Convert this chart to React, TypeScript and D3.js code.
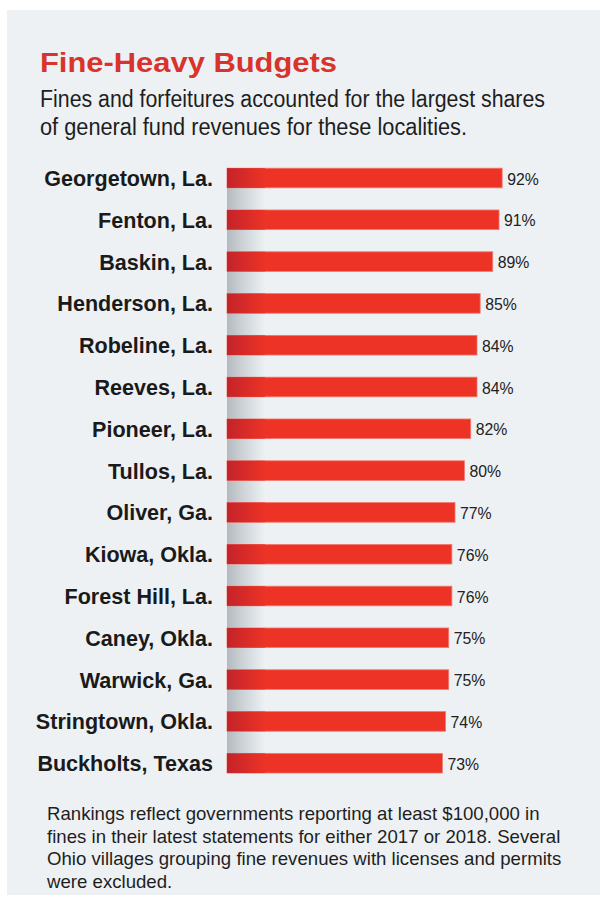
import React from "react";
import * as d3 from "d3";

const localities = [
  "Georgetown, La.",
  "Fenton, La.",
  "Baskin, La.",
  "Henderson, La.",
  "Robeline, La.",
  "Reeves, La.",
  "Pioneer, La.",
  "Tullos, La.",
  "Oliver, Ga.",
  "Kiowa, Okla.",
  "Forest Hill, La.",
  "Caney, Okla.",
  "Warwick, Ga.",
  "Stringtown, Okla.",
  "Buckholts, Texas",
];
const shares = [92, 91, 89, 85, 84, 84, 82, 80, 77, 76, 76, 75, 75, 74, 73];

const title = "Fine-Heavy Budgets";
const subtitleLines = [
  "Fines and forfeitures accounted for the largest shares",
  "of general fund revenues for these localities.",
];
const noteLines = [
  "Rankings reflect governments reporting at least $100,000 in",
  "fines in their latest statements for either 2017 or 2018. Several",
  "Ohio villages grouping fine revenues with licenses and permits",
  "were excluded.",
];

const W = 600;
const H = 903;
const sans = "'Liberation Sans', Arial, Helvetica, sans-serif";

export default function App() {
  const x = d3.scaleLinear().domain([0, 100]).range([213, 527.3]);
  const y = d3
    .scaleBand<string>()
    .domain(localities)
    .range([157.1, 784.1])
    .paddingInner(0.53)
    .paddingOuter(0.265);
  const barStart = 227;
  const shadeW = 38;
  const bw = y.bandwidth();
  const firstTop = y(localities[0])!;
  const lastBottom = y(localities[localities.length - 1])! + bw;

  return (
    <svg
      width={W}
      height={H}
      style={{ position: "absolute", left: 0, top: 0 }}
      xmlns="http://www.w3.org/2000/svg"
    >
      <defs>
        <linearGradient id="shade" x1="0" x2="1" y1="0" y2="0">
          <stop offset="0" stopColor="#b3babf" />
          <stop offset="0.35" stopColor="#c9cfd3" />
          <stop offset="1" stopColor="#edf1f4" />
        </linearGradient>
        <linearGradient id="barShade" x1="0" x2="1" y1="0" y2="0">
          <stop offset="0" stopColor="#c4232a" />
          <stop offset="1" stopColor="#ec3326" />
        </linearGradient>
      </defs>
      <rect x={0} y={0} width={W} height={H} fill="#ffffff" />
      <rect x={7} y={10} width={593} height={885} fill="#edf1f4" />

      <text
        x={40}
        y={72}
        fontFamily={sans}
        fontWeight="bold"
        fontSize={27}
        fill="#d8342c"
        textLength={297}
        lengthAdjust="spacingAndGlyphs"
      >
        {title}
      </text>
      {subtitleLines.map((t, i) => (
        <text
          key={i}
          x={40}
          y={107 + i * 28}
          fontFamily={sans}
          fontSize={23}
          fill="#1e1e1e"
          textLength={i === 0 ? 505 : 427}
          lengthAdjust="spacingAndGlyphs"
        >
          {t}
        </text>
      ))}

      <rect
        x={barStart}
        y={firstTop}
        width={shadeW}
        height={lastBottom - firstTop}
        fill="url(#shade)"
      />

      {localities.map((name, i) => {
        const top = y(name)!;
        const end = x(shares[i]);
        const cy = top + bw / 2;
        return (
          <g key={name}>
            <rect
              x={barStart}
              y={top}
              width={end - barStart}
              height={bw}
              fill="#ec3326"
              stroke="#f27a70"
              strokeWidth={0.8}
            />
            <rect
              x={barStart}
              y={top}
              width={shadeW}
              height={bw}
              fill="url(#barShade)"
            />
            <text
              transform={`translate(213,${cy}) scale(0.98,1)`}
              dy="0.36em"
              textAnchor="end"
              fontFamily={sans}
              fontWeight="bold"
              fontSize={22}
              fill="#1a1a1a"
            >
              {name}
            </text>
            <text
              transform={`translate(${end + 5},${cy + 0.5}) scale(0.93,1)`}
              dy="0.36em"
              fontFamily={sans}
              fontSize={17}
              fill="#222"
            >
              {shares[i]}%
            </text>
          </g>
        );
      })}

      {noteLines.map((t, i) => (
        <text
          key={i}
          transform={`translate(47,${820 + i * 22.5}) scale(0.97,1)`}
          fontFamily={sans}
          fontSize={19.2}
          fill="#1e1e1e"
        >
          {t}
        </text>
      ))}
    </svg>
  );
}
